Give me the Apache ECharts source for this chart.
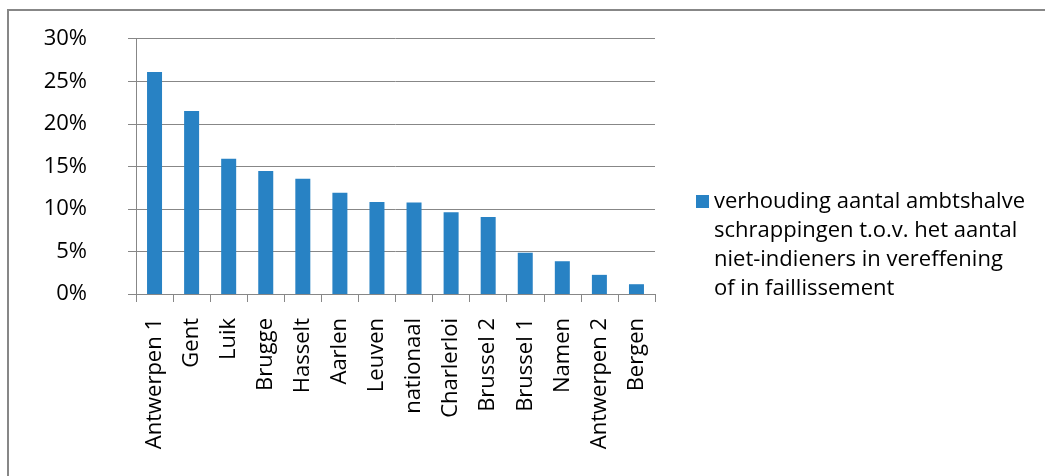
<!DOCTYPE html>
<html>
<head>
<meta charset="utf-8">
<style>
  html, body { margin: 0; padding: 0; background: #fff; }
  #chart { width: 1045px; height: 476px; }
</style>
<script src="https://cdn.jsdelivr.net/npm/echarts@6/dist/echarts.min.js"></script>
</head>
<body>
<div id="chart"></div>
<script>
// Regions (arrondissementen) and their ratio, in percent
const categories = ['Antwerpen 1', 'Gent', 'Luik', 'Brugge', 'Hasselt', 'Aarlen', 'Leuven',
  'nationaal', 'Charlerloi', 'Brussel 2', 'Brussel 1', 'Namen', 'Antwerpen 2', 'Bergen'];
const ratioValues = [26.1, 21.5, 15.9, 14.45, 13.55, 11.9, 10.8, 10.75, 9.6, 9.05, 4.85, 3.85, 2.25, 1.15];
const seriesName = 'verhouding aantal ambtshalve\nschrappingen t.o.v. het aantal\nniet-indieners in vereffening\nof in faillissement';
const yTicks = { min: 0, max: 30, interval: 5 };

const FONT = 'Open Sans';
const FS = 22;
const GREY = '#878787';
const BAR = '#2882c4';
const LH = 29;
const LINES = 4;
const BLOCK = LINES * LH;

// Legend marker: a square level with the first text line, inside a box as tall as the text block
const legendIcon = 'path://M0,' + (LH / 2 - 6.5) + 'H13V' + (LH / 2 + 6.5) + 'H0Z' +
  'M0,0L0,0.01M0,' + BLOCK + 'L0,' + (BLOCK + 0.01);

const chart = echarts.init(document.getElementById('chart'));
chart.setOption({
  animation: false,
  backgroundColor: '#fff',
  graphic: [{
    type: 'rect',
    shape: { x: 8, y: 10, width: 1200, height: 600 },
    style: { fill: 'none', stroke: GREY, lineWidth: 2 },
    silent: true
  }],
  grid: { left: 136, right: 390, top: 38.7, bottom: 182 },
  legend: {
    left: 696, top: 187,
    padding: 0,
    itemWidth: 13, itemHeight: BLOCK, itemGap: 0,
    icon: legendIcon,
    textStyle: { fontFamily: FONT, fontSize: FS, color: '#000', lineHeight: LH },
    data: [seriesName]
  },
  xAxis: {
    type: 'category',
    data: categories,
    axisLine: { lineStyle: { color: GREY, width: 1 } },
    axisTick: { show: true, length: 8, alignWithLabel: false, lineStyle: { color: GREY } },
    axisLabel: { rotate: 90, margin: 24, interval: 0, fontFamily: FONT, fontSize: FS, color: '#000' }
  },
  yAxis: {
    type: 'value',
    min: yTicks.min, max: yTicks.max, interval: yTicks.interval,
    axisLine: { show: true, lineStyle: { color: GREY } },
    axisTick: { show: true, length: 8, lineStyle: { color: GREY } },
    splitLine: { lineStyle: { color: GREY, width: 1 } },
    axisLabel: { formatter: v => v + '%', margin: 49, fontFamily: FONT, fontSize: FS, color: '#000' }
  },
  series: [{
    name: seriesName,
    type: 'bar',
    data: ratioValues,
    barWidth: 15,
    itemStyle: { color: BAR }
  }]
});
</script>
</body>
</html>
